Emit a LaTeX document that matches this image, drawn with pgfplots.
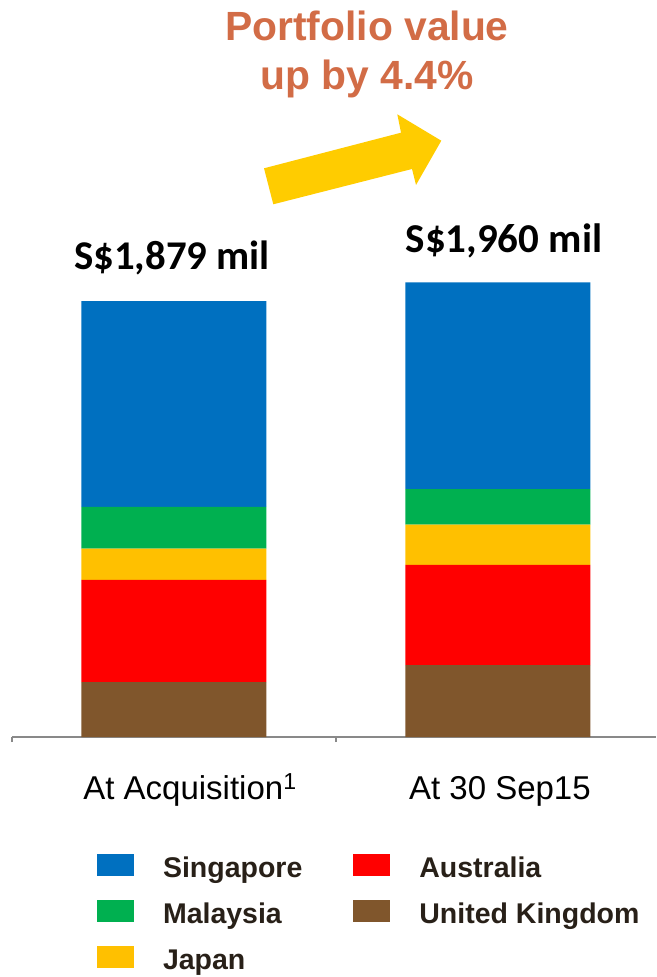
\documentclass[border=0pt]{standalone}
\usepackage{pgfplots}
\pgfplotsset{compat=1.18}
\usepackage{pgfplotstable}
\usepackage{fontspec}
\setmainfont{Liberation Sans}
\newfontfamily\calibri{Carlito}
\definecolor{sgblue}{RGB}{0,112,192}
\definecolor{mygreen}{RGB}{0,176,80}
\definecolor{myyellow}{RGB}{255,192,0}
\definecolor{myred}{RGB}{255,0,0}
\definecolor{mybrown}{RGB}{128,86,44}
\definecolor{legtext}{RGB}{40,32,24}
\definecolor{titlecol}{RGB}{210,108,70}
\definecolor{arrowcol}{RGB}{255,204,0}
\definecolor{axgray}{RGB}{137,137,137}

\pgfplotstableread{
x UK AU JP MY SG
0 237 440 135 180 887
1 310 432 173 153 892
}\data

\begin{document}
\begin{tikzpicture}[x=1pt,y=1pt]
\begin{axis}[
  scale only axis, width=644pt, height=464pt,
  xmin=-0.5, xmax=1.488, ymin=0, ymax=2000,
  ybar stacked, bar width=185pt,
  axis x line*=bottom, axis y line=none,
  axis line style={axgray, line width=1.3pt},
  xtick={-0.5,0.5}, xticklabels={},
  tick align=outside, major tick length=5pt,
  tick style={axgray, line width=1.2pt},
  clip=false,
  legend cell align=left,
  legend columns=2,
  legend image code/.code={\fill[#1] (0pt,-8pt) rectangle (37pt,14pt);},
  legend style={at={(0.132,-0.252)}, anchor=north west, draw=none, fill=none,
     inner sep=0pt, outer sep=0pt, row sep=21pt, column sep=29pt,
     font=\bfseries\fontsize{28.5}{33}\selectfont, text=legtext,
     nodes={inner sep=0pt},
     /tikz/every even column/.append style={column sep=51pt}},
]
\addplot+[fill=mybrown, draw=none, forget plot] table[x=x, y=UK] {\data};
\addplot+[fill=myred, draw=none, forget plot] table[x=x, y=AU] {\data};
\addplot+[fill=myyellow, draw=none, forget plot] table[x=x, y=JP] {\data};
\addplot+[fill=mygreen, draw=none, forget plot] table[x=x, y=MY] {\data};
\addplot+[fill=sgblue, draw=none, forget plot] table[x=x, y=SG] {\data};
\addlegendimage{fill=sgblue, draw=none}\addlegendentry{Singapore}
\addlegendimage{fill=myred, draw=none}\addlegendentry{Australia}
\addlegendimage{fill=mygreen, draw=none}\addlegendentry{Malaysia}
\addlegendimage{fill=mybrown, draw=none}\addlegendentry{United Kingdom}
\addlegendimage{fill=myyellow, draw=none}\addlegendentry{Japan}
\node[anchor=base, font=\calibri\bfseries\fontsize{40.8}{48}\selectfont] at (axis cs:0,1879) [yshift=32pt, xshift=-2pt] {S\$1,879 mil};
\node[anchor=base, font=\calibri\bfseries\fontsize{41}{48}\selectfont] at (axis cs:1,1960) [yshift=30pt, xshift=6pt] {S\$1,960 mil};
\node[anchor=base, font=\fontsize{33}{38}\selectfont] at (axis cs:0,0) [yshift=-62pt, xshift=16pt] {At Acquisition\textsuperscript{1}};
\node[anchor=base, font=\fontsize{33}{38}\selectfont] at (axis cs:1,0) [yshift=-62pt, xshift=2pt] {At 30 Sep15};
\coordinate (O) at (rel axis cs:0,0);
\end{axis}
\begin{scope}[shift={(O)}]
\fill[arrowcol] (252,568.7) -- (389,604.3) -- (385.3,622.7) -- (429.3,596.3) -- (404,552) -- (400,568) -- (261.3,532.7) -- cycle;
\node[anchor=base, text=titlecol, font=\bfseries\fontsize{40.8}{46}\selectfont] at (355,696.3) {Portfolio value};
\node[anchor=base, text=titlecol, font=\bfseries\fontsize{40.8}{46}\selectfont] at (355,647) {up by 4.4\%};
\path (-12,-240) rectangle (644,737);
\end{scope}
\end{tikzpicture}
\end{document}
